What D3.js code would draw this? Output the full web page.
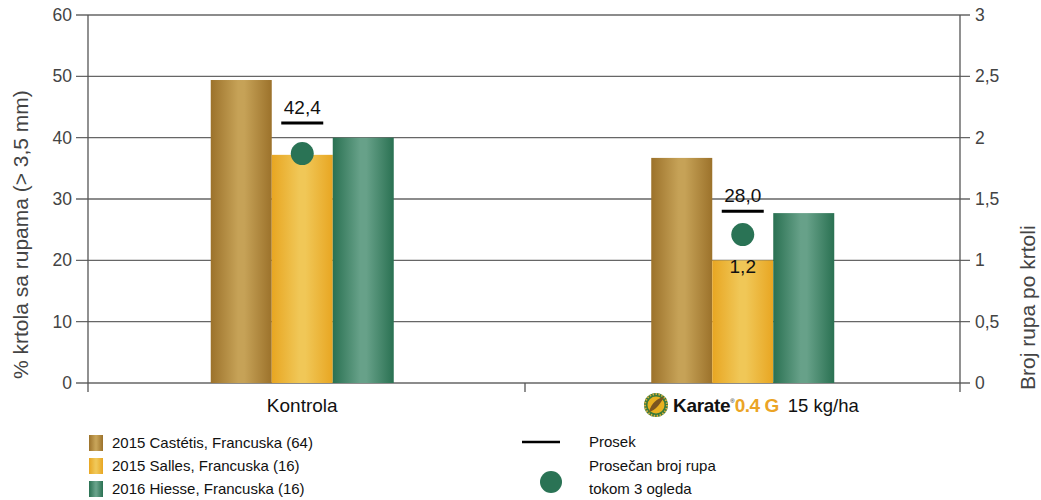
<!DOCTYPE html>
<html><head><meta charset="utf-8">
<script src="https://cdn.jsdelivr.net/npm/d3@7"></script>
<style>
body{margin:0;background:#fff;}
text{font-family:"Liberation Sans",Arial,Helvetica,sans-serif;}
</style></head>
<body><svg id="c" width="1041" height="500"></svg>
<script>
const categories = ["Kontrola", "Karate"];
const seriesNames = ["2015 Castétis, Francuska (64)", "2015 Salles, Francuska (16)", "2016 Hiesse, Francuska (16)"];
const castetis = [49.4, 36.7];
const salles = [37.2, 20.0];
const hiesse = [40.0, 27.7];
const means = [42.4, 28.0];
const meanLabels = ["42,4", "28,0"];
const holes = [1.87, 1.21];
const holeLabels = ["", "1,2"];
const leftTicks = [0, 10, 20, 30, 40, 50, 60];
const rightTicks = [0, 0.5, 1, 1.5, 2, 2.5, 3];
const rightTickLabels = ["0", "0,5", "1", "1,5", "2", "2,5", "3"];

const svg = d3.select("#c");
const L = 88, R = 960, T = 15, B = 383;
const y = d3.scaleLinear().domain([0, 60]).range([B, T]);
const y2 = d3.scaleLinear().domain([0, 3]).range([B, T]);
const x0 = d3.scaleBand().domain(categories).range([82, 963]);
const x1 = d3.scaleBand().domain([0,1,2]).range([0, 183]);

// gradients
const defs = svg.append("defs");
const grads = [
  ["g0", "#9c722b", "#c6a257"],
  ["g1", "#e8a622", "#f0c757"],
  ["g2", "#2a7152", "#67a189"]
];
grads.forEach(([id, e, c]) => {
  const g = defs.append("linearGradient").attr("id", id).attr("x1", "0").attr("x2", "1").attr("y1", "0").attr("y2", "0");
  g.append("stop").attr("offset", "0%").attr("stop-color", e);
  g.append("stop").attr("offset", "45%").attr("stop-color", c);
  g.append("stop").attr("offset", "55%").attr("stop-color", c);
  g.append("stop").attr("offset", "100%").attr("stop-color", e);
});

// gridlines
svg.append("g").selectAll("line").data(leftTicks).join("line")
  .attr("x1", L - 12).attr("x2", R + 10)
  .attr("y1", d => y(d)).attr("y2", d => y(d))
  .attr("stroke", "#666").attr("stroke-width", 1.3);

// axes lines
[L, R].forEach(xx => svg.append("line").attr("x1", xx).attr("x2", xx).attr("y1", T).attr("y2", B + 9)
  .attr("stroke", "#555").attr("stroke-width", 1.3));
svg.append("line").attr("x1", 525).attr("x2", 525).attr("y1", B).attr("y2", B + 9)
  .attr("stroke", "#555").attr("stroke-width", 1.3);

// tick labels
svg.append("g").selectAll("text").data(leftTicks).join("text")
  .attr("x", 72).attr("y", d => y(d) + 6).attr("text-anchor", "end")
  .attr("font-size", 17.5).attr("fill", "#444").text(d => d);
svg.append("g").selectAll("text").data(rightTicks).join("text")
  .attr("x", 975).attr("y", d => y2(d) + 6).attr("text-anchor", "start")
  .attr("font-size", 17.5).attr("fill", "#444").text((d, i) => rightTickLabels[i]);

// axis titles
svg.append("text").attr("transform", "translate(28,379) rotate(-90)")
  .attr("font-size", 21).attr("fill", "#444").text("% krtola sa rupama (> 3,5 mm)");
svg.append("text").attr("transform", "translate(1035,390) rotate(-90)")
  .attr("font-size", 21).attr("fill", "#444").text("Broj rupa po krtoli");

// bars
const series = [castetis, salles, hiesse];
const gcenter = c => x0(c) + x0.bandwidth() / 2;
categories.forEach((c, ci) => {
  const gx = gcenter(c) - 183 / 2;
  series.forEach((s, si) => {
    svg.append("rect").attr("x", gx + x1(si)).attr("width", x1.bandwidth())
      .attr("y", y(s[ci])).attr("height", B - y(s[ci]))
      .attr("fill", `url(#g${si})`);
  });
  const cx = gcenter(c);
  svg.append("line").attr("x1", cx - 21).attr("x2", cx + 21)
    .attr("y1", y(means[ci])).attr("y2", y(means[ci]))
    .attr("stroke", "#000").attr("stroke-width", 3);
  svg.append("text").attr("x", cx).attr("y", y(means[ci]) - 9).attr("text-anchor", "middle")
    .attr("font-size", 19).attr("fill", "#111").text(meanLabels[ci]);
  svg.append("circle").attr("cx", cx).attr("cy", y2(holes[ci])).attr("r", 11.5).attr("fill", "#2a7355");
  if (holeLabels[ci]) svg.append("text").attr("x", cx).attr("y", y2(holes[ci]) + 38).attr("text-anchor", "middle")
    .attr("font-size", 19).attr("fill", "#111").text(holeLabels[ci]);
});

// x labels
svg.append("text").attr("x", gcenter("Kontrola")).attr("y", 412).attr("text-anchor", "middle")
  .attr("font-size", 19).attr("fill", "#111").text("Kontrola");
// Karate label with logo
const kg = svg.append("g").attr("transform", "translate(656,405)");
kg.append("circle").attr("r", 12).attr("fill", "#3a7a3a");
kg.append("circle").attr("r", 11).attr("fill", "none").attr("stroke", "#d9b040").attr("stroke-width", 2).attr("stroke-dasharray", "1.5,1.5");
kg.append("circle").attr("r", 8.5).attr("fill", "#e8b020");
kg.append("path").attr("d", "M-7,7 C-5,-2 2,-7 8,-8 C5,-2 0,5 -7,7 Z").attr("fill", "#7a5520");
const kt = svg.append("text").attr("x", 673).attr("y", 412).attr("font-size", 19);
kt.append("tspan").attr("font-weight", "bold").attr("fill", "#111").attr("letter-spacing", -0.3).text("Karate");
kt.append("tspan").attr("font-size", 6).attr("dy", -9).attr("fill", "#111").text("®");
kt.append("tspan").attr("dy", 9).attr("font-weight", "bold").attr("fill", "#eba425").attr("font-size", 19).attr("letter-spacing", -0.5).text("0.4 G");
kt.append("tspan").attr("dx", 9).attr("fill", "#111").attr("font-size", 18.5).attr("letter-spacing", 0).text("15 kg/ha");

// legend
const ly = [443, 466, 489];
seriesNames.forEach((n, i) => {
  svg.append("rect").attr("x", 89).attr("y", ly[i] - 8).attr("width", 14).attr("height", 16).attr("fill", `url(#g${i})`);
  svg.append("text").attr("x", 112).attr("y", ly[i] + 5).attr("font-size", 15).attr("fill", "#111").text(n);
});
svg.append("line").attr("x1", 522).attr("x2", 560).attr("y1", 442).attr("y2", 442).attr("stroke", "#000").attr("stroke-width", 2.5);
svg.append("text").attr("x", 589).attr("y", 447).attr("font-size", 15).attr("fill", "#111").text("Prosek");
svg.append("circle").attr("cx", 551).attr("cy", 482).attr("r", 11).attr("fill", "#2a7355");
svg.append("text").attr("x", 589).attr("y", 471).attr("font-size", 15).attr("fill", "#111").text("Prosečan broj rupa");
svg.append("text").attr("x", 589).attr("y", 494).attr("font-size", 15).attr("fill", "#111").text("tokom 3 ogleda");
</script></body></html>
